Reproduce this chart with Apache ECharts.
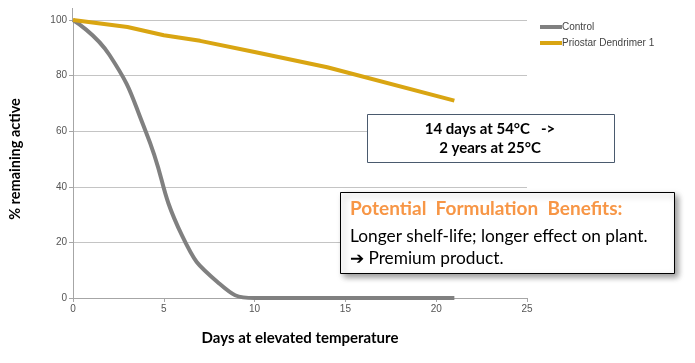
<!DOCTYPE html>
<html><head><meta charset="utf-8">
<script src="https://cdn.jsdelivr.net/npm/echarts@6/dist/echarts.min.js"></script>
<style>html,body{margin:0;padding:0;background:#fff}#c{width:695px;height:363px}</style>
</head><body><div id="c"></div>
<script>
const controlDays = [0, 2, 4, 6, 8, 10, 14, 21];
const controlValues = [100, 87.5, 60, 22.5, 5.5, 0, 0, 0];
const priostarDays = [0, 3, 5, 7, 10, 14, 21];
const priostarValues = [100, 97.5, 94.5, 92.5, 88.5, 83, 71];
const xTicks = [0, 5, 10, 15, 20, 25];
const yTicks = [0, 20, 40, 60, 80, 100];
const seriesNames = ['Control', 'Priostar Dendrimer 1'];

const chart = echarts.init(document.getElementById('c'), null, {renderer: 'canvas'});
chart.setOption({
  animation: false,
  grid: {left: 72, right: 168, top: 20, bottom: 65},
  legend: {
    left: 535, top: 17, orient: 'vertical', itemGap: 6,
    itemWidth: 22, itemHeight: 4, icon: 'rect',
    textStyle: {fontFamily: 'Liberation Sans, Arial', fontSize: 10, color: '#444', padding: [0,0,0,-5]},
    data: seriesNames
  },
  xAxis: {
    type: 'value', min: xTicks[0], max: xTicks[xTicks.length-1], interval: 5,
    name: 'Days at elevated temperature', nameLocation: 'middle', nameGap: 33,
    nameTextStyle: {fontFamily: 'Lato, Carlito, sans-serif', fontWeight: 'bold', fontSize: 15, color: '#000'},
    axisLine: {show: true, lineStyle: {color: '#a6a6a6', width: 1}},
    axisTick: {show: true, length: 4, lineStyle: {color: '#a6a6a6'}},
    axisLabel: {fontFamily: 'Liberation Sans, Arial', fontSize: 10, color: '#555', margin: 6},
    splitLine: {show: false}
  },
  yAxis: {
    type: 'value', min: yTicks[0], max: yTicks[yTicks.length-1], interval: 20,
    name: '% remaining active', nameLocation: 'middle', nameGap: 50, nameRotate: 90,
    nameTextStyle: {fontFamily: 'Lato, Carlito, sans-serif', fontWeight: 'bold', fontSize: 14.5, color: '#000'},
    axisLine: {show: true, lineStyle: {color: '#a6a6a6', width: 1}},
    axisTick: {show: true, length: 4, lineStyle: {color: '#a6a6a6'}},
    axisLabel: {fontFamily: 'Liberation Sans, Arial', fontSize: 10, color: '#555', margin: 6},
    splitLine: {show: true, lineStyle: {color: '#c4c4c4', width: 1}}
  },
  series: [
    {name: seriesNames[0], type: 'line', smooth: 0.5, showSymbol: false,
     lineStyle: {color: '#808080', width: 4}, itemStyle: {color: '#808080'},
     data: controlDays.map((d, i) => [d, controlValues[i]])},
    {name: seriesNames[1], type: 'line', smooth: false, showSymbol: false,
     lineStyle: {color: '#d9a512', width: 4}, itemStyle: {color: '#d9a512'},
     data: priostarDays.map((d, i) => [d, priostarValues[i]])}
  ],
  graphic: [
    {type: 'line', shape: {x1: 72.5, y1: 8, x2: 72.5, y2: 20}, style: {stroke: '#a6a6a6', lineWidth: 1}},
    {type: 'rect', shape: {x: 367.5, y: 114.5, width: 247, height: 48},
     style: {fill: '#fff', stroke: '#4a5a6e', lineWidth: 1}, z: 10},
    {type: 'text', x: 490, y: 120, z: 11,
     style: {text: '14 days at 54°C   ->\n2 years at 25°C', align: 'center', lineHeight: 19,
       font: 'bold 15px Lato, Carlito, sans-serif', fill: '#000'}},
    {type: 'rect', shape: {x: 340.5, y: 192.5, width: 334, height: 81},
     style: {fill: '#fff', stroke: '#000', lineWidth: 1, shadowBlur: 6, shadowOffsetX: 3, shadowOffsetY: 3, shadowColor: 'rgba(0,0,0,0.4)'}, z: 10},
    {type: 'text', x: 350, y: 199, z: 11,
     style: {text: 'Potential  Formulation  Benefits:', font: 'bold 19px Lato, Carlito, sans-serif', fill: '#f79646'}},
    {type: 'text', x: 350, y: 225, z: 11,
     style: {text: 'Longer shelf-life; longer effect on plant.\n➔ Premium product.', lineHeight: 22,
       font: '17.3px Lato, Carlito, sans-serif', fill: '#000'}}
  ]
});
</script></body></html>
